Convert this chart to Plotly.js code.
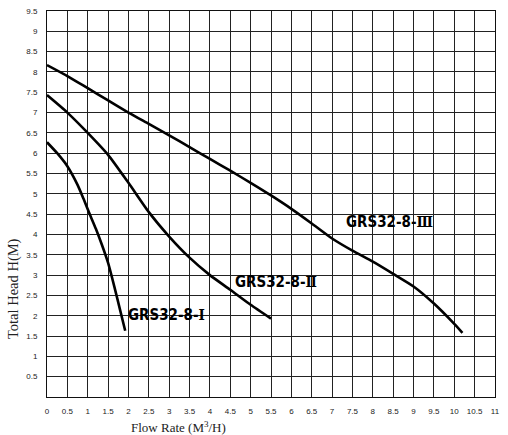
<!DOCTYPE html>
<html>
<head>
<meta charset="utf-8">
<script src="https://cdn.plot.ly/plotly-3.0.1.min.js"></script>
<style>
  html, body { margin: 0; padding: 0; background: #fff; }
  #chart { width: 508px; height: 435px; }
</style>
</head>
<body>
<div id="chart"></div>
<script>
// pump curves
const flowI = [0, 0.25, 0.5, 0.75, 0.9, 1.05, 1.2, 1.35, 1.5, 1.65, 1.8, 1.92];
const headI = [6.27, 6.0, 5.68, 5.22, 4.87, 4.5, 4.14, 3.74, 3.3, 2.73, 2.12, 1.63];

const flowII = [0, 0.5, 1, 1.5, 2, 2.5, 3, 3.5, 4, 4.5, 5, 5.5];
const headII = [7.43, 7.0, 6.5, 5.96, 5.27, 4.55, 3.95, 3.43, 3.0, 2.64, 2.27, 1.93];

const flowIII = [0, 0.5, 1, 1.5, 2, 2.5, 3, 3.5, 4, 4.5, 5, 5.5, 6, 6.5, 7, 7.5, 8, 8.5, 9, 9.5, 10, 10.2];
const headIII = [8.17, 7.9, 7.6, 7.3, 7.0, 6.72, 6.44, 6.15, 5.86, 5.57, 5.27, 4.96, 4.63, 4.27, 3.9, 3.6, 3.33, 3.03, 2.72, 2.3, 1.8, 1.58];

const curveBase = "GRS32-8-";
const curveNums = ["Ⅰ", "Ⅱ", "Ⅲ"];
const labelX = [1.93, 4.57, 7.29];
const labelY = [2.02, 2.83, 4.31];

const xTicks = [0, 0.5, 1, 1.5, 2, 2.5, 3, 3.5, 4, 4.5, 5, 5.5, 6, 6.5, 7, 7.5, 8, 8.5, 9, 9.5, 10, 10.5, 11];
const yTicks = [0.5, 1, 1.5, 2, 2.5, 3, 3.5, 4, 4.5, 5, 5.5, 6, 6.5, 7, 7.5, 8, 8.5, 9, 9.5];

const xTitle = "Flow Rate (M<sup>3</sup>/H)";
const yTitle = "Total Head H(M)";

// =========================
// TRACES
// =========================
function curve(x, y, name) {
    return {
        x: x,
        y: y,
        name: name,
        mode: "lines",
        line: { color: "#000", width: 2.6, shape: "spline", smoothing: 0.6 },
        hoverinfo: "skip"
    };
}

const traces = [
    curve(flowI, headI, curveBase + curveNums[0]),
    curve(flowII, headII, curveBase + curveNums[1]),
    curve(flowIII, headIII, curveBase + curveNums[2])
];

const tickFont = { family: "Liberation Sans Narrow, Liberation Sans, sans-serif", size: 8, color: "#222" };
const titleFont = { family: "Liberation Serif, DejaVu Serif, serif", size: 13, color: "#222" };

// curve labels, numeral in a serif face so the bars get joined serifs
const annotations = curveNums.map((n, i) => ({
    x: labelX[i],
    y: labelY[i],
    xref: "x",
    yref: "y",
    text: curveBase + "<span style='font-family:DejaVu Serif Condensed, DejaVu Serif'>" + n + "</span>",
    showarrow: false,
    xanchor: "left",
    yanchor: "middle",
    font: { family: "DejaVu Sans Condensed, DejaVu Sans, sans-serif", size: 15, color: "#000", weight: "bold" }
}));

// axis titles sit off-centre in the original, so place them by hand (pixels)
annotations.push({
    x: 178, y: 427, xref: "paper", yref: "paper", xanchor: "center", yanchor: "middle",
    text: xTitle, showarrow: false, font: titleFont
});
annotations.push({
    x: 13, y: 289, xref: "paper", yref: "paper", xanchor: "center", yanchor: "middle",
    text: yTitle, showarrow: false, textangle: -90, font: { ...titleFont, size: 14.5 }
});

// convert pixel spots of the titles to paper coords
const plotW = 508 - 47 - 13, plotH = 435 - 11 - 38;
annotations.slice(-2).forEach(a => {
    a.x = (a.x - 47) / plotW;
    a.y = (435 - 38 - a.y) / plotH;
});

const layout = {
    width: 508,
    height: 435,
    margin: { l: 47, r: 13, t: 11, b: 38 },
    paper_bgcolor: "#fff",
    plot_bgcolor: "#fff",
    showlegend: false,
    xaxis: {
        range: [0, 11],
        tickvals: xTicks,
        ticktext: xTicks.map(String),
        showgrid: true,
        gridcolor: "#222",
        gridwidth: 1,
        zeroline: false,
        showline: true,
        linecolor: "#111",
        linewidth: 1,
        mirror: true,
        ticks: "",
        ticklabelstandoff: 6,
        tickfont: tickFont
    },
    yaxis: {
        range: [0, 9.5],
        tickvals: yTicks,
        ticktext: yTicks.map(String),
        showgrid: true,
        gridcolor: "#222",
        gridwidth: 1,
        zeroline: false,
        showline: true,
        linecolor: "#111",
        linewidth: 1,
        mirror: true,
        ticks: "",
        ticklabelstandoff: 7,
        tickfont: tickFont
    },
    annotations: annotations
};

Plotly.newPlot("chart", traces, layout, { staticPlot: true, displayModeBar: false });
</script>
</body>
</html>
